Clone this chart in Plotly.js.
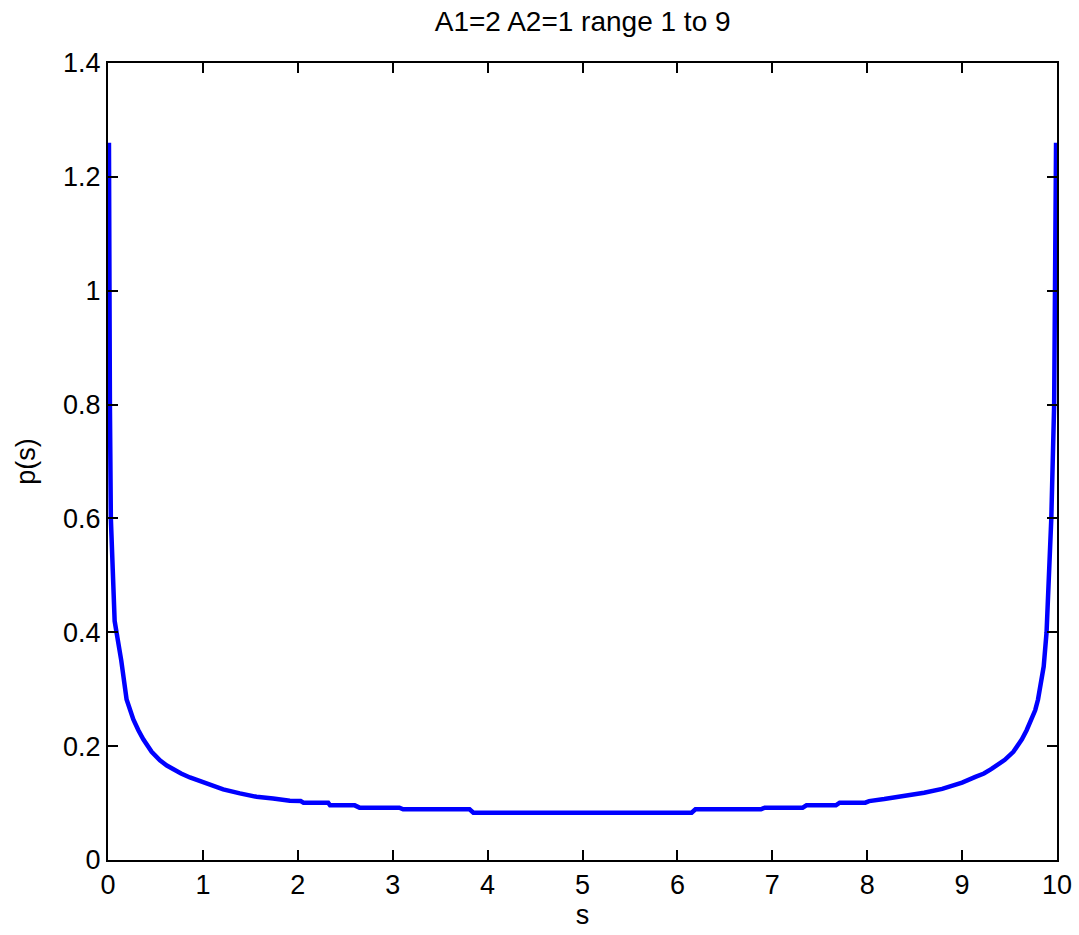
<!DOCTYPE html>
<html>
<head>
<meta charset="utf-8">
<script src="https://cdn.plot.ly/plotly-3.0.1.min.js"></script>
<style>html,body{margin:0;padding:0;background:#fff;}#chart{width:1079px;height:935px;}</style>
</head>
<body>
<div id="chart"></div>
<script>
// Values
const sValues = [0.01, 0.012, 0.02, 0.03, 0.045, 0.07, 0.09, 0.14, 0.196, 0.232, 0.267, 0.32, 0.372, 0.46, 0.547, 0.62, 0.688, 0.77, 0.863, 1.0, 1.214, 1.39, 1.565, 1.74, 1.916, 2.03,
  2.06, 2.32, 2.34, 2.6, 2.65, 3.07, 3.11, 3.81, 3.85, 6.15, 6.19, 6.88, 6.92, 7.32, 7.36, 7.67, 7.71, 7.98,
  8.02, 8.18, 8.39, 8.6, 8.79, 9.0, 9.14, 9.23, 9.31, 9.38, 9.45, 9.54, 9.63, 9.68, 9.73, 9.77, 9.80, 9.86, 9.89, 9.92, 9.94, 9.97, 9.98, 9.99];
const pValues = [1.26, 1.0, 0.8, 0.6, 0.52, 0.42, 0.40, 0.35, 0.282, 0.263, 0.247, 0.228, 0.212, 0.19, 0.175, 0.166, 0.159, 0.152, 0.145, 0.136, 0.124, 0.117, 0.111, 0.108, 0.104, 0.1035,
  0.1007, 0.1007, 0.096, 0.096, 0.092, 0.092, 0.089, 0.089, 0.083, 0.083, 0.089, 0.089, 0.092, 0.092, 0.096, 0.096, 0.1007, 0.1007,
  0.1035, 0.107, 0.112, 0.118, 0.125, 0.136, 0.146, 0.152, 0.16, 0.167, 0.176, 0.19, 0.212, 0.228, 0.247, 0.263, 0.282, 0.34, 0.40, 0.52, 0.6, 0.8, 1.0, 1.26];
const xTicks = [0, 1, 2, 3, 4, 5, 6, 7, 8, 9, 10];
const yTicks = [0, 0.2, 0.4, 0.6, 0.8, 1, 1.2, 1.4];
const yTickLabels = ['0', '0.2', '0.4', '0.6', '0.8', '1', '1.2', '1.4'];

const fontFam = 'Liberation Sans, Arial, Helvetica, sans-serif';

const trace = {
  x: sValues, y: pValues, type: 'scatter', mode: 'lines',
  line: {color: '#0000ff', width: 4.5}, hoverinfo: 'skip'
};

const axisCommon = {
  showline: true, linecolor: '#000', linewidth: 2, mirror: 'ticks',
  ticks: 'inside', ticklen: 10, tickwidth: 2, tickcolor: '#000',
  showgrid: false, zeroline: false,
  tickfont: {family: fontFam, size: 27, color: '#000'}
};

const layout = {
  width: 1079, height: 935,
  margin: {l: 108, r: 22, t: 63, b: 75},
  paper_bgcolor: '#fff', plot_bgcolor: '#fff',
  showlegend: false,
  title: {text: 'A1=2 A2=1 range 1 to 9', font: {family: fontFam, size: 28, color: '#000'},
          x: 0.54, xanchor: 'center', y: 0.988, yanchor: 'top'},
  xaxis: Object.assign({}, axisCommon, {
    range: [0, 10], tickvals: xTicks, ticktext: xTicks.map(String),
    title: {text: 's', font: {family: fontFam, size: 27, color: '#000'}, standoff: 6}
  }),
  yaxis: Object.assign({}, axisCommon, {
    range: [0, 1.4], tickvals: yTicks, ticktext: yTickLabels,
    title: {text: 'p(s)', font: {family: fontFam, size: 27, color: '#000'}, standoff: 20}
  })
};

Plotly.newPlot('chart', [trace], layout, {displayModeBar: false, staticPlot: true});
</script>
</body>
</html>
